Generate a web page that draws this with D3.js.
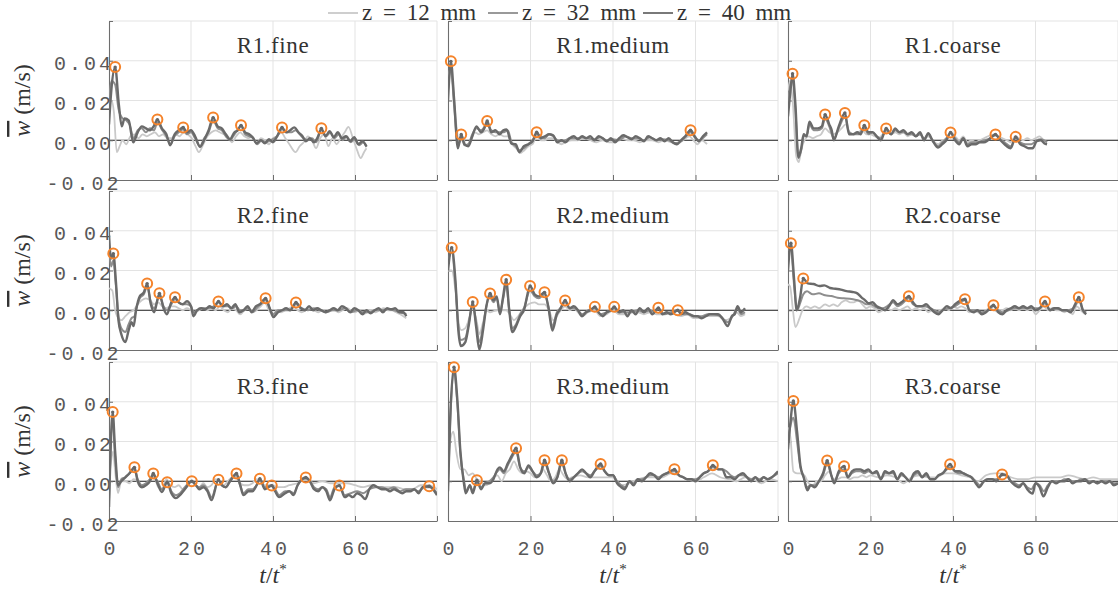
<!DOCTYPE html>
<html><head><meta charset="utf-8">
<script src="https://cdn.jsdelivr.net/npm/d3@7"></script>
<style>body{margin:0;background:#fff}svg{display:block}</style>
</head><body>
<script>
// ---------------- data ----------------
const legendLabels = ["z = 12 mm", "z = 32 mm", "z = 40 mm"];
const panelTitles = ["R1.fine","R1.medium","R1.coarse","R2.fine","R2.medium","R2.coarse","R3.fine","R3.medium","R3.coarse"];
const xTickValues = [0, 20, 40, 60, 80];
const xTickLabels = ["0", "20", "40", "60", ""];
const yTickValues = [-0.02, 0, 0.02, 0.04, 0.06];
const yTickLabels = ["-0.02", "0.00", "0.02", "0.04", ""];

// R1.fine
const r1f_12 = [[0,0.018],[0.6,0.02],[1.2,0.014],[1.9,-0.006],[2.6,-0.003],[3.3,0.0],[4.2,-0.002],[5.2,0.002],[6.2,0.003],[7.2,0.001],[8.2,0.003],[9.2,0.002],[10.2,0.003],[11.2,0.004],[12.2,0.002],[13.2,0.003],[14.2,0.001],[15.2,0.001],[16.2,0.003],[17.2,0.002],[18.2,0.004],[19.2,0.003],[20.2,0.001],[21.1,-0.003],[21.9,-0.006],[23,-0.002],[24,0.002],[25,0.004],[26,0.005],[27,0.004],[28,0.003],[29,0.002],[30,-0.001],[31,0.002],[32,0.004],[33,0.002],[34,0.001],[35,0.002],[36,-0.002],[37,0.001],[38,0.0],[39,-0.002],[40,0.001],[41,0.002],[42,0.004],[43,0.001],[44,-0.002],[45.5,-0.006],[46.5,-0.003],[47.5,-0.001],[48.5,0.002],[49.5,0.0],[50.5,-0.004],[51.5,0.001],[52.5,0.003],[53.5,-0.003],[54.5,0.001],[55.5,-0.002],[56.5,0.001],[57.5,0.004],[58.4,0.0067],[59.5,0.001],[60.5,-0.005],[61.4,-0.009],[62.2,-0.006],[62.8,-0.004]];
const r1f_32 = [[0,0.02],[0.6,0.03],[1.5,0.028],[2.3,0.016],[3.3,0.011],[4.2,0.01],[5,0.008],[6,0.001],[7,0.005],[8,0.006],[9,0.004],[10,0.006],[11,0.005],[11.8,0.009],[13,0.005],[14,0.002],[15,-0.002],[16,0.002],[17,0.004],[18.1,0.0055],[19,0.003],[20,0.004],[21,0.001],[22.2,-0.003],[23.2,0.001],[24.3,0.004],[25.4,0.01],[26.5,0.006],[27.5,0.005],[28.5,0.002],[29.5,0.0],[30.6,0.003],[32.2,0.007],[33.2,0.003],[34.2,0.002],[35.2,0.001],[36.2,-0.002],[37.2,0.0],[38.2,-0.001],[39.5,0.0],[41,0.002],[42.2,0.0055],[43.2,0.004],[44.5,0.004],[45.5,0.005],[46.5,0.003],[47.5,0.001],[48.5,0.0],[49.5,0.001],[50.5,-0.001],[51.8,0.005],[53,0.002],[54,0.004],[55,0.001],[56,0.003],[57,0.0],[58,0.002],[59,-0.001],[60,0.001],[61,-0.0025],[62,-0.001],[62.8,-0.0035]];
const r1f_40 = [[0,0.008],[0.6,0.026],[1.5,0.0368],[2.4,0.018],[3.1,0.007],[3.8,0.011],[4.8,0.01],[5.9,-0.001],[7,0.004],[8,0.007],[9,0.006],[10,0.005],[10.9,0.007],[11.8,0.0104],[12.9,0.006],[14,0.003],[14.9,-0.0025],[16,0.003],[17,0.005],[18.1,0.0064],[19,0.004],[20,0.005],[21,0.002],[22.2,-0.0033],[23.2,0.0],[24.3,0.005],[25.4,0.0114],[26.5,0.007],[27.5,0.006],[28.5,0.003],[29.5,0.0005],[30.6,0.004],[31.4,0.005],[32.2,0.0075],[33.2,0.004],[34.2,0.003],[35,0.0015],[36,-0.0015],[37,0.0],[38,-0.0015],[39,0.0005],[40,-0.001],[41,0.002],[42.2,0.0064],[43.2,0.004],[44.2,0.005],[45.2,0.0065],[46.2,0.004],[47.2,0.002],[48,-0.0005],[49,0.001],[50,-0.001],[51,0.002],[51.8,0.006],[52.8,0.002],[53.8,0.0045],[54.8,0.0015],[55.8,0.004],[56.8,0.001],[57.8,0.002],[58.8,-0.0005],[59.8,0.0015],[60.8,-0.002],[61.8,-0.0005],[62.8,-0.003]];
const r1f_pk = [[1.5,0.0368],[11.8,0.0104],[18.1,0.0064],[25.4,0.0114],[32.2,0.0075],[42.2,0.0064],[51.8,0.006]];

// R1.medium
const r1m_12 = [[0,0.03],[0.5,0.036],[1.2,0.028],[2,0.008],[2.8,-0.001],[3.6,0.001],[4.5,-0.003],[5.5,0.0],[6.5,0.004],[7.5,0.003],[8.5,0.004],[9.5,0.005],[10.5,0.003],[11.5,0.002],[12.5,0.003],[13.5,0.002],[14.5,0.002],[15.5,-0.002],[16.5,-0.004],[17.5,-0.0065],[18.5,-0.005],[19.5,-0.003],[20.5,-0.002],[21.5,0.002],[22.5,0.0],[23.5,0.0],[24.5,0.001],[25.5,0.001],[26.5,-0.001],[27.5,-0.002],[28.5,-0.001],[30,0.0],[31.5,0.0],[33,0.001],[34.5,0.0],[36,-0.001],[37.5,0.0],[39,-0.001],[40.5,-0.001],[42,0.001],[43.5,0.0],[45,0.0],[46.5,-0.001],[48,0.0],[49.5,0.0],[51,-0.001],[52.5,0.0],[54,-0.001],[55.5,-0.002],[57,0.0],[58.5,0.002],[59.5,0.0],[60.5,-0.002],[61.5,0.0],[62.3,-0.001],[62.8,-0.002]];
const r1m_32 = [[0,0.025],[0.7,0.036],[1.5,0.017],[2.4,-0.003],[3.2,0.002],[4,-0.0025],[4.9,-0.002],[5.9,0.003],[6.9,0.006],[8,0.005],[9.5,0.008],[10.5,0.005],[11.5,0.004],[12.5,0.004],[13.5,0.004],[14.5,0.005],[15.4,-0.001],[16.4,-0.003],[17.3,-0.005],[18.4,-0.004],[19.5,-0.002],[20.5,0.0],[21.5,0.003],[22.5,0.002],[23.5,0.001],[24.5,0.003],[25.5,0.002],[26.5,0.0],[27.5,-0.0005],[28.5,0.0],[29.5,0.001],[30.5,0.001],[31.5,0.001],[32.5,0.0015],[34,0.001],[35.5,0.0005],[37,0.0015],[38.5,0.0],[40,0.0005],[41.5,0.0],[43,0.002],[44.5,0.001],[46,0.001],[47.5,0.0],[49,0.0015],[50.5,0.0],[52,0.0005],[53.5,0.0],[55,-0.0015],[56.5,-0.0005],[57.5,0.0015],[58.8,0.004],[60,0.001],[61,0.0],[62,0.0015],[62.8,0.003]];
const r1m_40 = [[0,0.02],[0.7,0.0397],[1.5,0.02],[2.4,-0.004],[3.2,0.0029],[4,-0.002],[4.9,-0.003],[5.9,0.002],[6.9,0.007],[8,0.004],[8.8,0.006],[9.5,0.0097],[10.5,0.004],[11.5,0.005],[12.5,0.003],[13.4,0.005],[14.2,0.0054],[15.4,-0.0017],[16.4,-0.002],[17.3,-0.006],[18.4,-0.003],[19.5,-0.002],[20.5,-0.0005],[21.5,0.004],[22.5,0.001],[23.5,0.002],[24.5,0.003],[25.5,0.0025],[26.5,-0.001],[27.5,0.0],[28.5,-0.001],[29.5,0.001],[30.5,0.002],[31.5,0.0005],[32.5,0.002],[33.5,0.001],[34.5,0.002],[35.5,0.0],[36.5,0.002],[37.5,0.001],[38.5,-0.0005],[39.5,0.001],[40.5,-0.001],[41.5,0.001],[42.5,0.0025],[43.5,0.0015],[44.5,0.0005],[45.5,0.002],[46.5,0.001],[47.5,-0.0005],[48.5,0.002],[49.5,0.001],[50.5,0.0],[51.5,0.001],[52.5,-0.0005],[53.5,0.001],[54.5,-0.001],[55.5,-0.002],[56.5,0.0],[57.5,0.002],[58.8,0.005],[59.8,0.002],[60.8,-0.0005],[61.8,0.002],[62.8,0.004]];
const r1m_pk = [[0.7,0.0397],[3.2,0.0029],[9.5,0.0097],[21.5,0.004],[58.8,0.005]];

// R1.coarse
const r1c_12 = [[0,0.025],[0.5,0.03],[1.2,0.018],[2,-0.008],[2.6,-0.011],[3.2,-0.005],[4,0.0],[5,0.002],[6,0.001],[7,0.002],[8,0.003],[9,0.006],[10,0.004],[11,0.003],[12,0.004],[13,0.006],[14,0.008],[15,0.004],[16,0.003],[17,0.004],[18,0.005],[19,0.003],[20,0.003],[21,0.002],[22,0.001],[23,0.003],[24,0.004],[25,0.003],[26,0.004],[27,0.003],[28,0.004],[29,0.002],[30,0.003],[31,0.002],[32,0.003],[33,0.001],[34,0.002],[35,0.0],[36.4,-0.002],[37.5,0.0],[38.5,0.001],[39.5,0.004],[40.5,0.002],[41.5,0.0],[42.5,0.002],[43.5,-0.001],[44.5,0.0],[45.5,-0.001],[46.5,0.0],[47.5,0.001],[48.5,0.002],[50,0.003],[51,0.002],[52,0.001],[53,0.0],[54,-0.001],[55,0.002],[56,0.001],[57,0.0],[58,0.001],[59,0.0],[60,0.001],[61,0.002],[62,0.0],[62.8,-0.001]];
const r1c_32 = [[0,0.018],[0.6,0.028],[1.1,0.03],[1.8,0.015],[2.5,-0.009],[3.2,-0.005],[3.8,0.002],[4.5,0.002],[5.2,0.008],[6.2,0.005],[7.2,0.005],[8.2,0.006],[9,0.011],[10,0.007],[11.1,0.001],[12.3,0.006],[13.8,0.012],[14.8,0.004],[16,0.003],[17,0.003],[18.5,0.006],[19.5,0.003],[20.5,0.004],[21.5,0.002],[22.5,0.001],[23.8,0.005],[25,0.003],[26,0.005],[27,0.004],[28,0.004],[29,0.003],[30,0.003],[31,0.002],[32,0.003],[33,0.001],[34,0.003],[35,0.0],[36.4,-0.003],[37.4,-0.001],[38.4,0.001],[39.4,0.0035],[40.5,0.001],[41.5,-0.001],[42.5,0.001],[43.5,-0.002],[44.5,-0.001],[46,-0.001],[47.5,0.0],[48.5,0.0005],[50.3,0.0025],[51.5,0.0005],[52.5,-0.001],[54,-0.003],[55.2,0.0015],[56.3,-0.001],[57.5,-0.002],[59,-0.002],[60.3,0.0],[61.3,0.0005],[62.8,-0.001]];
const r1c_40 = [[0,0.012],[0.6,0.025],[1.1,0.0335],[1.8,0.018],[2.5,-0.0085],[3.2,-0.004],[3.8,0.003],[4.5,0.002],[5.2,0.0093],[6.2,0.006],[7.2,0.006],[8.2,0.007],[9,0.0129],[10,0.008],[10.6,0.005],[11.1,0.0],[12.3,0.007],[13.8,0.0137],[14.8,0.003],[15.8,0.003],[16.8,0.004],[17.6,0.003],[18.5,0.0075],[19.5,0.004],[20.5,0.004],[21.5,0.002],[22.5,0.0],[23.8,0.0059],[25,0.003],[26,0.006],[27,0.004],[28,0.005],[29,0.003],[30,0.004],[31,0.002],[32,0.004],[33,0.0],[34,0.0035],[35,0.0],[36.4,-0.0037],[37.4,-0.002],[38.4,0.0],[39.4,0.0039],[40.5,0.0],[41.5,-0.002],[42.5,0.001],[43.5,-0.003],[44.5,-0.002],[45.5,-0.002],[46.5,-0.001],[47.5,-0.001],[48.5,0.0],[50.3,0.0029],[51.5,0.0],[52.5,-0.002],[54,-0.004],[55.2,0.0017],[56.3,-0.002],[57.3,-0.003],[58.3,-0.004],[59.3,-0.004],[60.3,-0.0005],[61.3,0.0],[62.1,-0.0015],[62.8,-0.002]];
const r1c_pk = [[1.1,0.0335],[9,0.0129],[13.8,0.0137],[18.5,0.0075],[23.8,0.0059],[39.4,0.0039],[50.3,0.0029],[55.2,0.0017]];

// R2.fine
const r2f_12 = [[0,0.011],[0.8,0.01],[1.5,0.0],[2,-0.003],[3,-0.005],[4,-0.003],[5,-0.001],[6,0.0],[7,0.003],[8,0.005],[9,0.006],[10,0.005],[11,0.003],[12,0.004],[13,0.002],[14,0.001],[15,0.002],[16,0.002],[17,0.001],[18,0.0],[19,0.001],[20,0.0],[21,-0.001],[22,0.0],[23,0.001],[24,0.0],[25,0.001],[26,0.0],[27,0.002],[28,0.0],[29,-0.001],[30,0.001],[31,0.0],[32,-0.002],[33,0.0],[34,0.001],[35,-0.001],[36,0.0],[37,0.002],[38,0.004],[39,0.0],[40,-0.002],[41,0.0],[42,-0.001],[43,0.0],[44,0.001],[45,0.002],[46,0.0],[47,-0.001],[48,0.0],[49,0.001],[50,0.0],[51,-0.001],[52,0.0],[53,-0.001],[54,0.0],[55,0.0],[56,-0.001],[57,0.0],[58,0.001],[59,0.0],[60,-0.001],[61,0.0],[62,-0.002],[63,-0.001],[64,0.0],[65,-0.001],[66,0.0],[67,0.001],[68,0.0],[69,0.0],[70,-0.001],[71,-0.002],[72.5,-0.004]];
const r2f_32 = [[0,0.032],[0.5,0.022],[1.05,0.025],[1.7,0.012],[2.3,-0.003],[3,-0.009],[4,-0.011],[4.8,-0.007],[5.5,-0.004],[6.2,-0.003],[6.8,0.002],[7.5,0.006],[8.5,0.008],[9.3,0.012],[10.2,0.004],[11,0.001],[12.3,0.007],[13.3,0.002],[14.1,0.0],[15.2,0.003],[16.1,0.0055],[17,0.004],[18,0.003],[19,0.003],[20,0.002],[20.6,-0.001],[21.5,0.0],[22.5,0.001],[24,0.001],[25.5,0.002],[26.7,0.004],[27.8,0.002],[29,0.002],[30,0.001],[31,0.002],[32,0.0],[33,0.0],[34,0.001],[35,-0.001],[36,0.001],[37,0.003],[38.2,0.005],[39.2,0.001],[40.1,-0.002],[41.2,0.0],[42.5,0.0],[44,0.0],[45.6,0.003],[47,0.001],[48.5,0.0],[50,0.001],[51.5,0.0],[53,-0.001],[54.5,0.0],[56,0.0],[57.5,0.001],[59,-0.001],[60.5,0.0],[62,-0.001],[63.5,-0.001],[65,0.0],[66.5,0.0],[68,0.0005],[69.5,0.0],[71,-0.001],[72.5,-0.002]];
const r2f_40 = [[0,0.038],[0.5,0.026],[1.05,0.0285],[1.7,0.014],[2.3,-0.005],[3,-0.012],[4,-0.016],[4.8,-0.01],[5.5,-0.006],[6,-0.008],[6.6,0.0],[7.5,0.007],[8.5,0.009],[9.3,0.0134],[10.2,0.003],[11,-0.001],[12.3,0.0085],[13.3,0.001],[14.1,-0.002],[15.2,0.004],[16.1,0.0065],[17,0.004],[18,0.003],[19,0.0045],[20,0.002],[20.6,-0.003],[21.5,0.0],[22.5,0.001],[23.5,0.0005],[24.5,0.002],[25.5,0.001],[26.7,0.0044],[27.8,0.002],[28.8,0.003],[29.8,0.001],[30.8,0.003],[31.8,-0.001],[32.8,0.0],[33.8,0.002],[34.8,-0.001],[35.8,0.002],[36.8,0.003],[38.2,0.006],[39.2,0.001],[40.1,-0.0034],[41.2,-0.001],[42.2,0.0],[43.2,0.001],[44.2,0.0],[45.6,0.0039],[46.8,0.001],[47.8,0.0],[48.8,0.002],[49.8,0.0],[50.8,0.001],[51.8,0.0],[52.8,-0.001],[53.8,0.0],[54.8,0.001],[55.8,0.0],[56.8,0.002],[57.8,0.001],[58.8,-0.001],[59.8,0.001],[60.8,0.0],[61.8,-0.002],[62.8,0.0],[63.8,-0.0015],[64.8,0.0],[65.8,0.001],[66.8,-0.001],[67.8,0.001],[68.8,0.0005],[69.8,0.001],[70.8,-0.001],[71.8,-0.001],[72.5,-0.003]];
const r2f_pk = [[1.05,0.0285],[9.3,0.0134],[12.3,0.0085],[16.1,0.0065],[26.7,0.0044],[38.2,0.006],[45.6,0.0039]];

// R2.medium
const r2m_12 = [[0,0.02],[0.9,0.02],[1.8,0.01],[2.5,-0.005],[3.2,-0.01],[4.2,-0.009],[5,-0.005],[6,0.001],[7,-0.006],[7.6,-0.012],[8.5,-0.006],[9.3,0.0],[10.2,-0.001],[11,-0.0005],[12,0.0],[13,0.0],[14.1,0.0],[15,-0.002],[16,-0.005],[17,-0.003],[18,0.0],[19.5,0.003],[21,0.004],[22,0.003],[23.4,0.003],[24.5,0.0],[25.5,-0.005],[27,-0.001],[28.4,0.002],[29.5,0.0],[30.5,0.001],[31.5,-0.001],[32.5,-0.003],[34,-0.001],[35.5,0.0],[37,-0.003],[38.5,-0.002],[40,0.0],[41.5,-0.002],[43,-0.002],[44.5,-0.001],[46,-0.001],[47.5,-0.002],[49,-0.001],[50.5,-0.002],[52,-0.002],[53.5,-0.001],[55,-0.002],[56.5,-0.003],[58,-0.002],[59.5,-0.004],[61,-0.004],[62.5,-0.003],[64,-0.003],[65.5,-0.003],[67,-0.005],[68.5,-0.004],[70,-0.001],[71,-0.003],[72,-0.002]];
const r2m_32 = [[0,0.025],[0.9,0.029],[1.8,0.013],[2.5,-0.008],[3.1,-0.015],[4.2,-0.014],[5,-0.007],[6,0.003],[6.8,-0.006],[7.6,-0.016],[8.5,-0.008],[9.3,0.002],[10.2,0.007],[11,0.004],[11.8,0.006],[12.6,-0.001],[13.3,0.005],[14.1,0.013],[14.8,0.001],[15.6,-0.009],[16.5,-0.007],[17.5,-0.002],[18.4,0.001],[19.9,0.01],[21,0.007],[22,0.006],[23.4,0.008],[24.3,0.002],[25.3,-0.008],[26.4,-0.001],[27.2,0.001],[28.4,0.004],[29.5,0.001],[30.5,0.001],[31.5,0.0],[32.5,-0.002],[34,0.0],[35.6,0.001],[37,-0.002],[38.5,-0.001],[40.3,0.001],[41.5,-0.001],[43,-0.001],[44.5,-0.001],[46,0.0],[47.5,-0.001],[49,0.0],[50,-0.001],[51,0.001],[52.5,-0.002],[54,-0.001],[55.7,0.0],[57,-0.002],[58.5,-0.002],[60,-0.003],[61.5,-0.003],[63,-0.002],[64.5,-0.002],[66,-0.003],[67.8,-0.006],[69,-0.003],[70.2,0.001],[71,-0.002],[72,-0.001]];
const r2m_40 = [[0,0.02],[0.9,0.0315],[1.8,0.015],[2.5,-0.01],[3.1,-0.018],[4.2,-0.016],[5,-0.008],[6,0.0042],[6.8,-0.008],[7.6,-0.0198],[8.5,-0.01],[9.3,0.002],[10.2,0.0084],[11,0.005],[11.8,0.007],[12.6,-0.002],[13.3,0.006],[14.1,0.0154],[14.8,0.001],[15.6,-0.011],[16.5,-0.008],[17.5,-0.003],[18.4,0.0],[19.9,0.0122],[21,0.008],[22,0.007],[23.4,0.009],[24.3,0.002],[25.3,-0.0102],[26.4,-0.002],[27.2,0.0005],[28.4,0.0049],[29.5,0.001],[30.5,0.002],[31.5,0.0],[32.5,-0.003],[33.5,-0.001],[34.5,0.0],[35.6,0.0017],[36.5,-0.001],[37.5,-0.003],[38.5,-0.001],[39.5,0.0],[40.3,0.0017],[41.5,-0.001],[42.5,0.0],[43.5,-0.003],[44.5,0.0],[45.5,-0.002],[46.5,0.001],[47.5,-0.001],[48.5,0.001],[49.5,-0.002],[51,0.0012],[52,-0.002],[53,-0.001],[54,-0.002],[55.7,0.0],[56.5,-0.002],[57.5,-0.001],[58.5,-0.002],[59.5,-0.003],[60.5,-0.003],[61.5,-0.004],[62.5,-0.003],[63.5,-0.002],[64.5,-0.002],[65.5,-0.002],[66.5,-0.004],[67.8,-0.008],[68.8,-0.003],[69.5,-0.002],[70.2,0.002],[71,-0.001],[72,0.001]];
const r2m_pk = [[0.9,0.0315],[6,0.0042],[10.2,0.0084],[14.1,0.0154],[19.9,0.0122],[23.4,0.009],[28.4,0.0049],[35.6,0.0017],[40.3,0.0017],[51,0.0012],[55.7,0.0]];

// R2.coarse
const r2c_12 = [[0,0.013],[0.5,0.012],[1.2,0.0],[1.8,-0.0085],[2.8,-0.004],[3.5,0.0],[4.5,0.002],[5.5,0.001],[6.5,0.002],[7.5,0.001],[9,0.003],[10,0.002],[11,0.003],[12,0.002],[13,0.004],[14,0.005],[15,0.004],[16,0.004],[17,0.005],[18,0.003],[19,0.001],[20,0.002],[21,0.001],[22,-0.001],[23,0.0],[24,0.001],[25,0.0],[26,0.001],[27,0.0],[28,0.001],[29,0.002],[30,0.0],[31,0.001],[32,0.0],[33,0.001],[34,-0.001],[35,0.0],[36,-0.001],[37,0.0],[38,0.001],[39,0.0],[40,0.002],[41,0.001],[42,0.002],[43,0.001],[44,-0.001],[45,0.0],[46,-0.001],[47,-0.002],[48,0.0],[49,0.001],[50,0.0],[51,-0.001],[52,0.0],[53,0.001],[54,0.0],[55,0.001],[56,0.0],[57,0.001],[58,0.0],[59,0.001],[60,-0.002],[61,0.0],[62,0.002],[63,0.0],[64,0.001],[65,0.0],[66,0.0],[67,-0.001],[68,0.0],[69,-0.002],[70,0.002],[71,0.0],[72,-0.002]];
const r2c_32 = [[0,0.03],[0.7,0.031],[1.5,0.012],[2.2,0.0],[3,0.004],[3.7,0.008],[4.6,0.0095],[6,0.008],[7.5,0.0085],[9,0.0075],[10.5,0.0072],[12,0.0063],[13.5,0.006],[15,0.0058],[16.5,0.0052],[18,0.0042],[19,0.003],[20,0.003],[21,0.002],[22,0.001],[23,0.001],[24,0.002],[25.5,0.004],[26.5,0.002],[27.5,0.003],[29.3,0.006],[30.3,0.003],[31.5,0.002],[33,0.002],[34.5,0.001],[35.5,0.0],[36.5,-0.001],[37.5,0.0],[39,0.001],[40.5,0.002],[42.9,0.005],[44,0.0],[45.5,0.0],[47,-0.001],[48.5,0.0],[49.8,0.002],[51,0.0],[52,-0.001],[53.5,0.0],[55,0.001],[56.5,0.001],[58,0.001],[59.5,0.001],[61,0.001],[62.3,0.0035],[63.5,0.0],[65,0.001],[66.5,0.0],[68,0.0],[69.6,0.002],[70.5,0.005],[71.5,0.0],[72.3,-0.001]];
const r2c_40 = [[0,0.02],[0.7,0.0337],[1.5,0.015],[2.1,0.0],[2.9,0.006],[3.7,0.016],[4.8,0.0135],[6.2,0.0132],[7.6,0.0122],[8.8,0.0125],[10.2,0.0112],[11.5,0.0108],[12.8,0.0104],[14.2,0.0096],[15.6,0.0092],[16.8,0.0085],[17.8,0.0065],[18.7,0.005],[19.5,0.0035],[20.5,0.004],[21.5,0.002],[22.5,0.001],[23.5,0.0],[24.5,0.002],[25.5,0.005],[26.5,0.003],[27.5,0.004],[29.3,0.007],[30.3,0.004],[31.3,0.002],[32.5,0.002],[33.5,0.003],[34.5,0.001],[35.5,-0.001],[36.5,-0.002],[37.5,0.0],[38.5,0.002],[39.5,0.001],[40.5,0.003],[42.9,0.0055],[44,0.0],[45,-0.001],[46,0.0],[47,-0.002],[48,-0.001],[49.8,0.0025],[51,-0.001],[52,-0.002],[53,0.0],[54,0.001],[55,0.002],[56,0.001],[57,0.002],[58,0.001],[59,0.002],[60,0.0],[61,0.001],[62.3,0.0044],[63.5,0.0],[64.5,0.001],[65.5,0.001],[66.5,0.0],[67.5,0.0],[68.5,-0.001],[69.6,0.003],[70.5,0.0065],[71.5,0.0],[72.3,-0.002]];
const r2c_pk = [[0.7,0.0337],[3.7,0.016],[29.3,0.007],[42.9,0.0055],[49.8,0.0025],[62.3,0.0044],[70.5,0.0065]];

// R3.fine
const r3f_12 = [[0,0.0],[0.5,0.01],[1,0.015],[1.5,0.005],[2.2,-0.006],[3,0.0],[4,0.0],[5,-0.001],[6,0.001],[7,0.0],[8,-0.003],[9,-0.002],[10,0.001],[11,0.002],[12,-0.003],[13,-0.004],[14,0.001],[15,-0.002],[16,-0.003],[17,-0.002],[18,-0.004],[19,-0.003],[20,0.0],[21,-0.002],[22,-0.003],[23,-0.001],[24,-0.003],[25,-0.002],[26,0.001],[27,0.0],[28,-0.002],[29,0.0],[30,0.002],[31,0.002],[32,-0.001],[33,-0.002],[34,-0.002],[35,-0.001],[36,0.001],[37,0.0],[38,-0.002],[39,-0.002],[40,-0.002],[41,-0.003],[42.5,-0.003],[44,-0.002],[46,-0.001],[48,0.001],[50,-0.001],[52,0.0],[54,-0.001],[56,-0.001],[58,-0.001],[60,-0.002],[62,-0.003],[64,-0.002],[66,-0.003],[68,-0.003],[70,-0.003],[72,-0.004],[74,-0.004],[76,-0.002],[78,-0.002],[80,-0.004]];
const r3f_32 = [[0,-0.01],[0.3,0.012],[0.9,0.03],[1.5,0.012],[2.2,-0.003],[3,0.001],[4,0.002],[5,0.004],[6.2,0.006],[7,0.001],[8,-0.002],[9,-0.001],[10,0.001],[10.8,0.003],[11.8,0.0],[12.9,-0.004],[14.2,0.0],[15.2,-0.005],[16.3,-0.007],[17.3,-0.006],[18.5,-0.003],[20.2,0.0],[21.2,-0.002],[22,-0.003],[23,-0.002],[24,-0.004],[25,-0.008],[26.7,0.0005],[27.5,-0.002],[28.5,-0.003],[29.5,0.0],[31.1,0.003],[32,-0.002],[32.8,-0.006],[34,-0.004],[35,-0.004],[36,-0.002],[36.8,0.001],[38,-0.003],[39.7,-0.002],[40.5,-0.004],[41.5,-0.007],[43,-0.005],[44,-0.005],[45,-0.006],[46,-0.002],[48,0.0015],[49,0.0],[50,-0.003],[51,-0.004],[52,-0.003],[53,-0.004],[53.9,-0.008],[55,-0.003],[56.2,-0.002],[57.5,-0.007],[59,-0.006],[60.5,-0.005],[62,-0.006],[63.5,-0.004],[65,-0.003],[66.5,-0.003],[68,-0.004],[69.5,-0.003],[71,-0.005],[72.5,-0.004],[74,-0.004],[75.5,-0.005],[77,-0.003],[78.5,-0.003],[80,-0.006]];
const r3f_40 = [[0,-0.013],[0.3,0.01],[0.9,0.0348],[1.5,0.015],[2.2,-0.002],[3,0.0],[4,0.002],[5,0.004],[6.2,0.007],[7,0.0],[8,-0.003],[9,-0.002],[10,0.0],[10.8,0.0039],[11.8,-0.001],[12.9,-0.0054],[14.2,-0.0005],[15.2,-0.006],[16.3,-0.0085],[17.3,-0.007],[18.5,-0.004],[20.2,0.0],[21.2,-0.002],[22,-0.004],[23,-0.003],[24,-0.005],[25,-0.0095],[26.7,0.0008],[27.5,-0.002],[28.5,-0.003],[29.5,0.0],[31.1,0.0039],[32,-0.002],[32.8,-0.007],[34,-0.005],[35,-0.005],[36,-0.002],[36.8,0.0013],[38,-0.004],[39.7,-0.0022],[40.5,-0.005],[41.5,-0.008],[43,-0.006],[44,-0.005],[45,-0.007],[46,-0.002],[48,0.0019],[49,0.0],[50,-0.004],[51,-0.005],[52,-0.003],[53,-0.005],[53.9,-0.0096],[55,-0.004],[56.2,-0.0022],[57.5,-0.008],[58.5,-0.007],[59.5,-0.008],[60.5,-0.006],[61.5,-0.007],[62.5,-0.009],[63.5,-0.004],[64.5,-0.002],[65.5,-0.003],[66.5,-0.004],[67.5,-0.004],[68.5,-0.005],[69.5,-0.004],[70.5,-0.005],[71.5,-0.006],[72.5,-0.005],[73.5,-0.005],[74.5,-0.004],[75.5,-0.006],[76.5,-0.003],[78.1,-0.0025],[79,-0.004],[80,-0.007]];
const r3f_pk = [[0.9,0.0348],[6.2,0.007],[10.8,0.0039],[14.2,-0.0005],[20.2,0.0],[26.7,0.0008],[31.1,0.0039],[36.8,0.0013],[39.7,-0.0022],[48,0.0019],[56.2,-0.0022],[78.1,-0.0025]];

// R3.medium
const r3m_12 = [[0,0.01],[0.5,0.02],[1.3,0.025],[2,0.015],[3,0.006],[4,0.006],[5,0.003],[6,0.004],[7,0.001],[8,0.0],[9,-0.002],[10,-0.001],[11,0.002],[12,0.003],[13,0.0],[14,0.004],[15,0.006],[16,0.01],[17,0.006],[18,0.004],[19,0.005],[20,0.004],[21,0.002],[22,0.003],[23,0.006],[24,0.003],[25,0.0],[26,0.002],[27,0.006],[28,0.003],[29,0.001],[30,0.002],[32,0.003],[34,0.002],[36,0.002],[38,0.002],[40,0.002],[42,-0.002],[44,-0.001],[46,0.001],[48,0.002],[50,0.002],[52,0.002],[54,0.004],[56,0.003],[58,0.001],[60,0.0],[62,0.002],[64,0.004],[66,0.002],[68,0.001],[70,0.0],[72,0.002],[74,0.001],[76,-0.001],[78,0.001],[80,0.0]];
const r3m_32 = [[0,-0.003],[0.5,0.028],[1.45,0.054],[2.3,0.038],[3,0.014],[3.8,0.001],[4.5,-0.005],[5.3,-0.002],[6,-0.005],[7,0.0],[8,-0.003],[9,-0.001],[10,0.0],[11,0.002],[12,0.005],[12.6,0.006],[13.5,0.004],[14.5,0.008],[15.5,0.012],[16.5,0.015],[17.5,0.007],[18.5,0.005],[19.5,0.007],[20.5,0.005],[21.5,0.003],[22.5,0.004],[23.4,0.009],[24.5,0.004],[25.5,0.0],[26.5,0.002],[27.6,0.009],[28.5,0.004],[29.5,0.001],[30.5,0.002],[31.5,0.004],[32.5,0.005],[33.5,0.004],[34.5,0.003],[35.5,0.005],[37,0.0075],[38,0.005],[39,0.003],[40,0.003],[41,0.0],[42,-0.002],[43,-0.003],[44,0.0],[45,-0.001],[46,0.001],[47,0.001],[48,0.002],[49,0.003],[50,0.003],[51,0.002],[52,0.003],[53,0.004],[54.9,0.005],[56,0.003],[57,0.002],[58,0.001],[59,0.001],[60,0.001],[61,0.002],[62,0.004],[63,0.005],[64.2,0.007],[65.5,0.006],[66.5,0.006],[67.5,0.005],[68.5,0.003],[69.5,0.002],[70.5,0.003],[71.5,0.003],[72.5,0.002],[73.5,0.001],[74.5,0.002],[75.5,0.001],[76.5,0.002],[77.5,0.001],[78.5,0.002],[80,0.004]];
const r3m_40 = [[0,-0.005],[0.5,0.03],[1.45,0.0574],[2.3,0.04],[3,0.015],[3.8,0.0],[4.3,-0.006],[5.3,-0.002],[6,-0.006],[7,0.0005],[8,-0.004],[9,-0.001],[10,-0.001],[11,0.001],[12,0.006],[12.6,0.007],[13.5,0.005],[14.5,0.009],[15.5,0.013],[16.5,0.0166],[17.5,0.007],[18.5,0.004],[19.5,0.008],[20.5,0.005],[21.5,0.002],[22.5,0.004],[23.4,0.0106],[24.5,0.004],[25.5,-0.001],[26.5,0.002],[27.6,0.0106],[28.5,0.004],[29.5,0.0],[30.5,0.002],[31.5,0.004],[32.5,0.006],[33.5,0.004],[34.5,0.002],[35.5,0.005],[37,0.0087],[38,0.005],[39,0.003],[40,0.003],[41,-0.001],[42,-0.003],[42.8,-0.004],[44,0.0],[45,-0.002],[46,0.001],[47,0.0],[48,0.002],[49,0.004],[50,0.003],[51,0.001],[52,0.003],[53,0.004],[54.9,0.006],[56,0.003],[57,0.002],[58,0.001],[59,0.001],[60,0.0],[61,0.002],[62,0.004],[63,0.005],[64.2,0.008],[65.5,0.006],[66.5,0.006],[67.5,0.002],[68.5,0.002],[69.5,0.001],[70.5,0.003],[71.5,0.004],[72.5,0.002],[73.5,0.0],[74.5,0.002],[75.5,0.0],[76.5,0.002],[77.5,0.001],[78.5,0.002],[80,0.005]];
const r3m_pk = [[1.45,0.0574],[7,0.0005],[16.5,0.0166],[23.4,0.0106],[27.6,0.0106],[37,0.0087],[54.9,0.006],[64.2,0.008]];

// R3.coarse
const r3c_12 = [[0,0.027],[0.6,0.022],[1.3,0.005],[2.2,0.004],[3,0.004],[4,0.003],[5,-0.001],[6,-0.002],[7,0.0],[8,0.0],[9,0.003],[10,0.005],[11,0.001],[12,0.001],[13,0.002],[14,0.002],[15,0.001],[16,0.002],[17,0.002],[18,0.003],[19,0.002],[20,0.003],[22,0.002],[24,0.003],[26,0.002],[28,-0.001],[30,0.002],[32,0.003],[34,0.002],[36,0.002],[38,0.004],[40,0.004],[42,0.003],[44,0.002],[46,0.0],[48,0.003],[50,0.004],[52,0.004],[54,0.002],[56,0.001],[58,0.001],[60,0.002],[62,0.002],[64,0.002],[66,0.002],[68,0.003],[70,0.002],[72,0.001],[74,0.002],[76,0.001],[78,0.001],[80,0.001]];
const r3c_32 = [[0,0.02],[0.6,0.028],[1.3,0.032],[2.2,0.02],[3,0.007],[3.8,0.002],[4.6,-0.003],[5.5,-0.002],[6.5,-0.002],[7.5,0.0],[8.5,0.003],[9.5,0.009],[10.5,0.003],[11.2,0.0],[12.3,0.004],[13.6,0.006],[14.5,0.002],[15.5,0.004],[16.5,0.005],[17.5,0.005],[18.5,0.004],[19.5,0.005],[20.5,0.004],[21.5,0.004],[22.5,0.001],[23.5,0.004],[24.5,0.004],[25.5,0.004],[26.5,0.001],[27.5,0.003],[28.5,0.002],[29.5,0.0],[30.5,0.003],[31.5,0.004],[32.5,0.002],[33.5,0.003],[34.5,0.001],[35.5,0.001],[36.5,0.003],[37.5,0.004],[39.3,0.007],[40.5,0.005],[41.5,0.004],[42.5,0.004],[43.5,0.003],[44.5,0.002],[45.5,0.0],[46.5,-0.002],[47.5,0.0],[48.5,0.001],[49.5,0.001],[50.5,0.001],[51.9,0.003],[53,0.003],[54,0.0],[55,-0.001],[56,-0.002],[57,-0.001],[58,-0.003],[59,-0.004],[60,-0.001],[61,-0.002],[62,-0.005],[63,-0.002],[64,0.0],[65,0.0],[66,0.0],[67,0.001],[68,0.001],[69,0.0],[70,0.0],[71,0.001],[72,0.001],[73,0.0],[74,0.0],[75,-0.001],[76,0.0],[77,0.0],[78,0.0],[79,-0.001],[80,-0.001]];
const r3c_40 = [[0,0.016],[0.6,0.03],[1.3,0.0404],[2.2,0.025],[3,0.008],[3.8,0.002],[4.7,-0.0045],[5.5,-0.002],[6.5,-0.003],[7.5,0.0],[8.5,0.004],[9.5,0.0104],[10.5,0.003],[11.2,-0.001],[12.3,0.005],[13.6,0.0075],[14.5,0.002],[15.5,0.005],[16.5,0.006],[17.5,0.006],[18.5,0.005],[19.5,0.006],[20.5,0.004],[21.5,0.005],[22.5,0.001],[23.5,0.005],[24.5,0.004],[25.5,0.005],[26.5,0.001],[27.5,0.004],[28.5,0.002],[29.5,0.0],[30.5,0.004],[31.5,0.005],[32.5,0.002],[33.5,0.004],[34.5,0.001],[35.5,0.001],[36.5,0.003],[37.5,0.004],[39.3,0.0085],[40.5,0.005],[41.5,0.005],[42.5,0.004],[43.5,0.003],[44.5,0.002],[45.5,-0.001],[46.3,-0.003],[47.5,0.0],[48.5,0.001],[49.5,0.001],[50.5,0.0],[51.9,0.0034],[53,0.003],[54,0.0],[55,-0.002],[56,-0.003],[57,-0.001],[58,-0.004],[59.3,-0.0062],[60,-0.001],[61,-0.003],[61.9,-0.0076],[63,-0.003],[64,0.0],[65,-0.001],[66,0.0],[67,0.0],[68,0.001],[69,-0.001],[70,0.0],[71,0.0],[72,0.001],[73,-0.001],[74,0.0],[75,-0.001],[76,0.0],[77,-0.001],[78,0.0],[79,-0.002],[80,-0.001]];
const r3c_pk = [[1.3,0.0404],[9.5,0.0104],[13.6,0.0075],[39.3,0.0085],[51.9,0.0034]];

// ---------------- layout ----------------
const panels = [
  [r1f_12, r1f_32, r1f_40, r1f_pk], [r1m_12, r1m_32, r1m_40, r1m_pk], [r1c_12, r1c_32, r1c_40, r1c_pk],
  [r2f_12, r2f_32, r2f_40, r2f_pk], [r2m_12, r2m_32, r2m_40, r2m_pk], [r2c_12, r2c_32, r2c_40, r2c_pk],
  [r3f_12, r3f_32, r3f_40, r3f_pk], [r3m_12, r3m_32, r3m_40, r3m_pk], [r3c_12, r3c_32, r3c_40, r3c_pk]
];

const W = 1118, H = 595;
const colX = [109, 448, 788], colW = [328, 330, 330];
const rowY = [21, 191, 362], rowH = 159;
const seriesColors = ["#c9c9c9", "#8e8e8e", "#6a6a6a"];
const seriesWidths = [1.8, 2.0, 2.4];
const orange = "#f5832a";
const serif = "'Liberation Serif','Times New Roman',serif";
const mono = "'Liberation Mono','Courier New',monospace";

const svg = d3.select("body").append("svg").attr("width", W).attr("height", H)
  .attr("font-family", serif);
const defs = svg.append("defs");

panels.forEach((p, i) => {
  const r = Math.floor(i / 3), c = i % 3;
  const x0 = colX[c], w = colW[c], y0 = rowY[r];
  const x = d3.scaleLinear().domain([0, 80]).range([x0, x0 + w]);
  const y = d3.scaleLinear().domain([-0.02, 0.06]).range([y0 + rowH, y0]);
  const g = svg.append("g");

  // grid
  g.append("g").selectAll("line").data([20, 40, 60, 80]).join("line")
    .attr("x1", d => x(d)).attr("x2", d => x(d)).attr("y1", y0).attr("y2", y0 + rowH)
    .attr("stroke", "#e3e3e3").attr("stroke-width", 1);
  g.append("g").selectAll("line").data([0.02, 0.04, 0.06]).join("line")
    .attr("x1", x0).attr("x2", x0 + w).attr("y1", d => y(d)).attr("y2", d => y(d))
    .attr("stroke", "#e3e3e3").attr("stroke-width", 1);

  // zero line
  g.append("line").attr("x1", x0).attr("x2", x0 + w).attr("y1", y(0)).attr("y2", y(0))
    .attr("stroke", "#1a1a1a").attr("stroke-width", 1.1);

  // axes
  const ax = g.append("g").attr("transform", `translate(0,${y0 + rowH})`)
    .call(d3.axisBottom(x).tickValues(xTickValues).tickSizeInner(-5).tickSizeOuter(0).tickPadding(20)
      .tickFormat((d, k) => r === 2 ? xTickLabels[k] : ""));
  const ay = g.append("g").attr("transform", `translate(${x0},0)`)
    .call(d3.axisLeft(y).tickValues(yTickValues).tickSizeInner(-4).tickSizeOuter(0)
      .tickFormat((d, k) => c === 0 ? yTickLabels[k] : ""));
  [ax, ay].forEach(a => {
    a.select(".domain").attr("stroke", "#6e6e6e").attr("stroke-width", 1.1);
    a.selectAll(".tick line").attr("stroke", "#6e6e6e");
    a.selectAll("text").attr("font-family", mono).attr("font-size", 20)
      .style("letter-spacing", "3px").attr("fill", "#585858");
  });
  ay.selectAll("text").attr("text-anchor", "middle").attr("x", -25).attr("dy", "0.45em");
  ax.selectAll("text").attr("dx", 1.5);

  // clip
  const cid = "clip" + i;
  defs.append("clipPath").attr("id", cid).append("rect")
    .attr("x", x0).attr("y", y0 - 2).attr("width", w).attr("height", rowH + 4);

  const line = d3.line().x(d => x(d[0])).y(d => y(d[1])).curve(d3.curveMonotoneX);
  [0, 1, 2].forEach(s => {
    g.append("path").datum(p[s]).attr("d", line).attr("fill", "none")
      .attr("stroke", seriesColors[s]).attr("stroke-width", seriesWidths[s])
      .attr("stroke-linejoin", "round").attr("clip-path", `url(#${cid})`);
  });

  // peak markers
  const pk = g.append("g").selectAll("g").data(p[3]).join("g")
    .attr("transform", d => `translate(${x(d[0])},${y(d[1])})`);
  pk.append("circle").attr("r", 5).attr("fill", "none").attr("stroke", orange).attr("stroke-width", 2);
  pk.append("circle").attr("r", 1.7).attr("fill", "#666");

  // title
  g.append("text").attr("x", x0 + w / 2).attr("y", y0 + 32).attr("text-anchor", "middle")
    .attr("font-size", 23).style("letter-spacing", "0.6px").attr("fill", "#333").text(panelTitles[i]);

  // y label
  if (c === 0) {
    const t = g.append("text").attr("transform", `translate(30,${y0 + rowH / 2}) rotate(-90)`)
      .attr("text-anchor", "middle").attr("font-size", 24).attr("fill", "#333");
    t.append("tspan").attr("font-style", "italic").style("text-decoration", "overline").text("w");
    t.append("tspan").text(" (m/s)");
  }
  // x label
  if (r === 2) {
    const t = g.append("text").attr("x", x0 + w / 2).attr("y", 583).attr("text-anchor", "middle")
      .attr("font-size", 24).attr("fill", "#333");
    t.append("tspan").attr("font-style", "italic").text("t");
    t.append("tspan").text("/");
    t.append("tspan").attr("font-style", "italic").text("t");
    t.append("tspan").attr("font-size", 15).attr("dy", -9).text("*");
  }
});

// legend
const legX = [328, 488, 643];
legendLabels.forEach((lab, k) => {
  svg.append("line").attr("x1", legX[k]).attr("x2", legX[k] + 30).attr("y1", 13).attr("y2", 13)
    .attr("stroke", seriesColors[k]).attr("stroke-width", 1.8);
  svg.append("text").attr("x", legX[k] + 34).attr("y", 20).attr("font-size", 23)
    .style("word-spacing", "5px").attr("fill", "#333").text(lab);
});
</script>
</body></html>
